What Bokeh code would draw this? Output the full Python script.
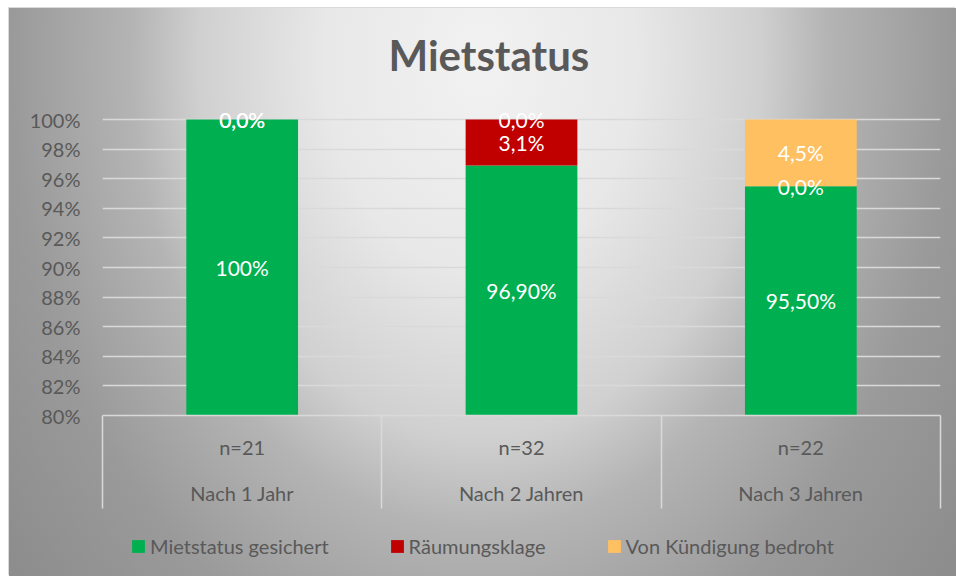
from bokeh.plotting import figure
from bokeh.layouts import column
from bokeh.models import (ColumnDataSource, FactorRange, Range1d, CategoricalAxis,
                          FixedTicker, NumeralTickFormatter, Legend, LegendItem)
from bokeh.core.properties import value
from bokeh.embed import file_html
from bokeh.resources import INLINE

# ---------------- data ----------------
groups = ["Nach 1 Jahr", "Nach 2 Jahren", "Nach 3 Jahren"]
n_labels = ["n=21", "n=32", "n=22"]
series_names = ["Mietstatus gesichert", "Räumungsklage", "Von Kündigung bedroht"]
gesichert = [1.000, 0.969, 0.955]
raeumung = [0.000, 0.031, 0.000]
kuendigung = [0.000, 0.000, 0.045]
label_gesichert = ["100%", "96,90%", "95,50%"]
label_raeumung = ["0,0%", "3,1%", "0,0%"]
label_kuendigung = ["0,0%", "0,0%", "4,5%"]
y_ticks = [0.80, 0.82, 0.84, 0.86, 0.88, 0.90, 0.92, 0.94, 0.96, 0.98, 1.00]
colors = ["#00B050", "#C00000", "#FFC061"]

# ---------------- styling ----------------
FONT = "Lato"
GRAY = "#595959"
LIGHT = "#d9d9d9"
FS = "20px"
Y_START = y_ticks[0]
Y_END = 1.0149

bg = ("radial-gradient(520px 700px at 471px 52px, #f2f2f2 0%, #e8e8e8 30%, #d0d0d0 54%, "
      "#b4b4b4 67%, #9a9a9a 90%, #8d8d8d 115%)")

p = figure(width=947, height=512,
           x_range=FactorRange(factors=groups, range_padding=0, factor_padding=0),
           y_range=Range1d(Y_START, Y_END),
           x_axis_location=None, output_backend="svg", toolbar_location=None,
           min_border_left=93, min_border_right=16, min_border_top=89, min_border_bottom=105,
           background_fill_color=None, border_fill_color=None, outline_line_color=None)

p.title.text = "Mietstatus"
p.title.align = "left"
p.title.offset = 286
p.title.standoff = 36
p.title.text_font = FONT
p.title.text_font_size = "42px"
p.title.text_font_style = "bold"
p.title.text_color = GRAY

# y axis
yax = p.yaxis[0]
yax.ticker = FixedTicker(ticks=y_ticks)
yax.formatter = NumeralTickFormatter(format="0%")
yax.axis_line_color = None
yax.major_tick_line_color = None
yax.minor_tick_line_color = None
yax.major_tick_in = 0
yax.major_tick_out = 0
yax.major_label_standoff = 22
yax.major_label_text_font = FONT
yax.major_label_text_font_size = FS
yax.major_label_text_color = GRAY

p.ygrid.ticker = FixedTicker(ticks=y_ticks)
p.ygrid.grid_line_color = LIGHT
p.ygrid.grid_line_width = 1.5
for g in p.xgrid:
    g.visible = False

# x axes: separators (category boundaries), n labels, group labels
boundaries = [" " * (i + 1) for i in range(len(groups) + 1)]
p.extra_x_ranges = {
    "n": FactorRange(factors=n_labels, range_padding=0, factor_padding=0),
    "sep": FactorRange(factors=boundaries, range_padding=-0.499,
                       range_padding_units="absolute", factor_padding=0),
}
sep_axis = CategoricalAxis(x_range_name="sep", major_tick_in=-93, major_tick_out=0,
                           major_tick_line_color=LIGHT, major_tick_line_width=1.5,
                           axis_line_color=None, major_label_text_font_size="0px",
                           major_label_standoff=0)
n_axis = CategoricalAxis(x_range_name="n", axis_line_color=LIGHT, axis_line_width=1.5,
                         major_tick_line_color=None, major_tick_in=0, major_tick_out=0,
                         major_label_standoff=19, major_label_text_font=FONT,
                         major_label_text_font_size=FS, major_label_text_color=GRAY)
group_axis = CategoricalAxis(axis_line_color=None, major_tick_line_color=None,
                             major_tick_in=0, major_tick_out=0, major_label_standoff=19,
                             major_label_text_font=FONT, major_label_text_font_size=FS,
                             major_label_text_color=GRAY)
p.add_layout(sep_axis, "below")
p.add_layout(n_axis, "below")
p.add_layout(group_axis, "below")

# bars
source = ColumnDataSource(dict(group=groups, g=gesichert, r=raeumung, k=kuendigung))
renderers = p.vbar_stack(["g", "r", "k"], x="group", width=0.4, fill_color=colors,
                         line_color=None, source=source)

# data labels
series = [gesichert, raeumung, kuendigung]
labels = [label_gesichert, label_raeumung, label_kuendigung]
lx, ly, lt = [], [], []
bottom = [0.0] * len(groups)
for vals, labs in zip(series, labels):
    for i, (v, t) in enumerate(zip(vals, labs)):
        lo = max(bottom[i], Y_START)
        hi = bottom[i] + v
        lx.append(groups[i])
        ly.append((lo + hi) / 2)
        lt.append(t)
        bottom[i] = hi
p.text(x="x", y="y", text="t", source=ColumnDataSource(dict(x=lx, y=ly, t=lt)),
       text_color="white", text_font=value(FONT), text_font_size="21px",
       text_align="center", text_baseline="middle")

# legend strip (separate figure below, same series colours; proxies carry no visible data)
q = figure(width=947, height=56, x_range=Range1d(0, 1), y_range=Range1d(0, 1),
           x_axis_location=None, y_axis_location=None, output_backend="svg",
           toolbar_location=None, min_border=0, title=None,
           background_fill_color=None, border_fill_color=None, outline_line_color=None)
q.grid.visible = False
legend_items = []
nan = float("nan")
for name, col in zip(series_names, colors):
    r = q.vbar(x=[nan], top=[nan], width=0.1, fill_color=col, line_color=None)
    legend_items.append(LegendItem(label=name, renderers=[r]))
legend = Legend(items=legend_items, orientation="horizontal", location=(28, 18),
                padding=0, margin=0, spacing=60, glyph_width=16, glyph_height=16,
                label_standoff=4, label_text_font=FONT, label_text_font_size=FS,
                label_text_color=GRAY, border_line_color=None, background_fill_alpha=0)
q.add_layout(legend)

layout = column(p, q, spacing=0,
                styles={"margin-left": "9px", "margin-top": "8px", "background": bg,
                        "box-shadow": "-1px -1px 0 0 #d9d9d9"})

open("out.html", "w").write(file_html(layout, INLINE))
